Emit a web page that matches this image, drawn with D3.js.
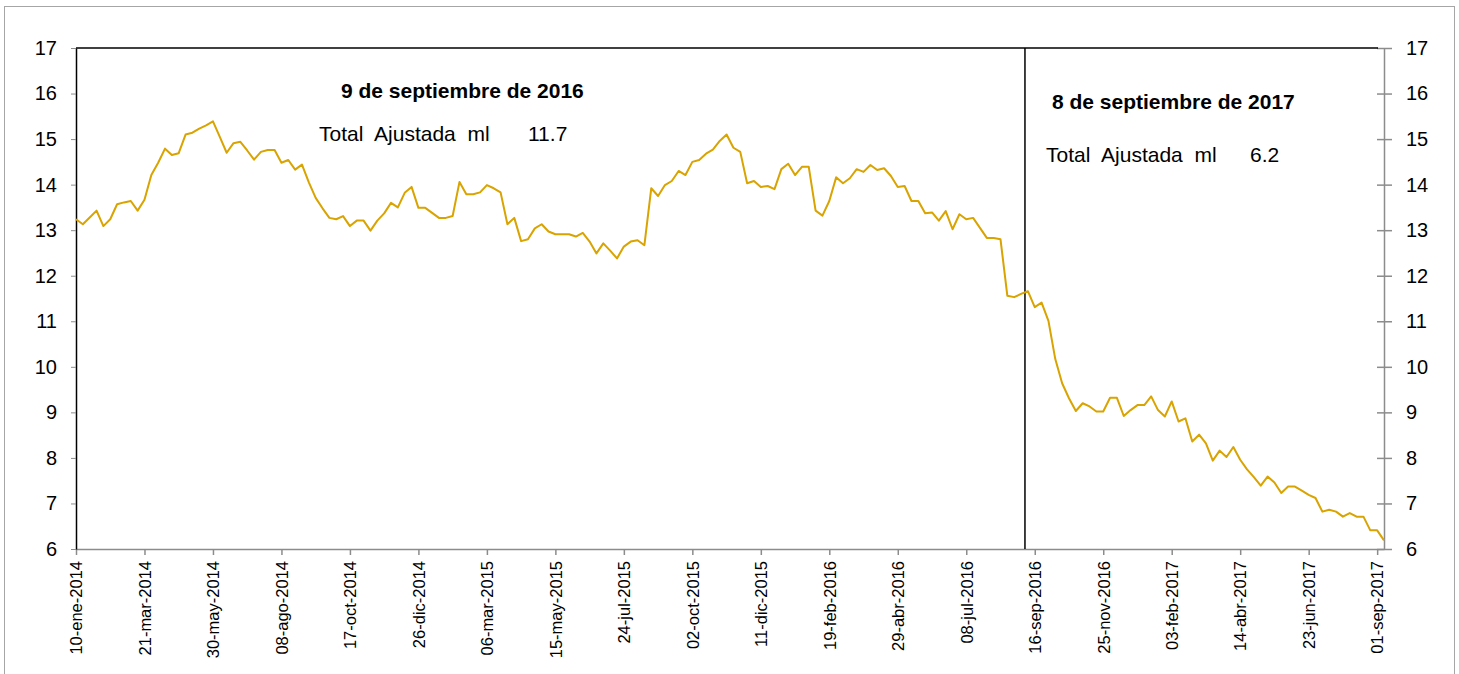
<!DOCTYPE html>
<html>
<head>
<meta charset="utf-8">
<script src="https://cdn.jsdelivr.net/npm/d3@7/dist/d3.min.js"></script>
<style>
  body { margin: 0; background: #fff; }
  text { font-family: "Liberation Sans", Arial, sans-serif; fill: #000; }
</style>
</head>
<body>
<div id="chart"></div>
<script>
// weekly series, first week and values (Total Ajustada ml)
const FIRST_WEEK = "2014-01-10";
const VALUES = [
  13.24, 13.13, 13.28, 13.43, 13.09, 13.24, 13.57, 13.61, 13.64, 13.43,
  13.67, 14.21, 14.48, 14.79, 14.65, 14.69, 15.10, 15.14, 15.23, 15.30,
  15.39, 15.05, 14.70, 14.91, 14.94, 14.75, 14.55, 14.72, 14.76, 14.76,
  14.48, 14.54, 14.33, 14.44, 14.05, 13.71, 13.48, 13.27, 13.24, 13.31,
  13.09, 13.21, 13.21, 12.99, 13.21, 13.37, 13.60, 13.50, 13.82, 13.95,
  13.49, 13.49, 13.38, 13.27, 13.27, 13.31, 14.06, 13.79, 13.79, 13.83,
  13.99, 13.92, 13.83, 13.13, 13.27, 12.76, 12.80, 13.04, 13.13, 12.97,
  12.91, 12.91, 12.91, 12.86, 12.94, 12.75, 12.49, 12.71, 12.55, 12.38,
  12.64, 12.75, 12.78, 12.67, 13.92, 13.75, 13.99, 14.08, 14.30, 14.21,
  14.50, 14.54, 14.68, 14.77, 14.96, 15.10, 14.81, 14.72, 14.03, 14.08,
  13.95, 13.97, 13.90, 14.34, 14.46, 14.21, 14.39, 14.39, 13.43, 13.32,
  13.64, 14.16, 14.03, 14.14, 14.34, 14.28, 14.43, 14.32, 14.36, 14.19,
  13.95, 13.97, 13.64, 13.64, 13.37, 13.39, 13.21, 13.42, 13.02, 13.35,
  13.24, 13.27, 13.05, 12.83, 12.83, 12.80, 11.56, 11.53, 11.60, 11.66,
  11.31, 11.41, 11.01, 10.17, 9.64, 9.31, 9.03, 9.20, 9.13, 9.02,
  9.02, 9.32, 9.32, 8.92, 9.05, 9.16, 9.16, 9.35, 9.05, 8.91,
  9.24, 8.80, 8.87, 8.36, 8.51, 8.32, 7.94, 8.16, 8.02, 8.24,
  7.96, 7.75, 7.58, 7.39, 7.59, 7.46, 7.23, 7.37, 7.37, 7.28,
  7.19, 7.12, 6.82, 6.86, 6.82, 6.71, 6.79, 6.71, 6.71, 6.41,
  6.41, 6.19
];
const Y_TICKS = [6, 7, 8, 9, 10, 11, 12, 13, 14, 15, 16, 17];
const X_TICK_EVERY = 10; // a label every 10 weeks
const MONTHS_ES = ["ene", "feb", "mar", "abr", "may", "jun", "jul", "ago", "sep", "oct", "nov", "dic"];
const MARKER_DATE = "2016-09-06";
const NOTE_LEFT = ["9 de septiembre de 2016", "Total Ajustada ml", "11.7"];
const NOTE_RIGHT = ["8 de septiembre de 2017", "Total Ajustada ml", "6.2"];

const W = 1459, H = 674;
const margin = {top: 48, right: 75, bottom: 125, left: 76};
const width = W - margin.left - margin.right;
const height = H - margin.top - margin.bottom;
const LINE_COLOR = "#d9a300";
const AXIS_GREY = "#8c8c8c";

const DAY = 24 * 3600 * 1000;
const t0 = Date.parse(FIRST_WEEK + "T00:00:00Z");
const data = VALUES.map((v, i) => ({date: new Date(t0 + i * 7 * DAY), value: v}));

const locale = d3.timeFormatLocale({
  dateTime: "%x, %X", date: "%d/%m/%Y", time: "%H:%M:%S", periods: ["AM", "PM"],
  days: ["domingo", "lunes", "martes", "miércoles", "jueves", "viernes", "sábado"],
  shortDays: ["dom", "lun", "mar", "mié", "jue", "vie", "sáb"],
  months: ["enero", "febrero", "marzo", "abril", "mayo", "junio", "julio", "agosto", "septiembre", "octubre", "noviembre", "diciembre"],
  shortMonths: MONTHS_ES
});
const fmt = locale.utcFormat("%d-%b-%Y");

const x = d3.scaleUtc().domain(d3.extent(data, d => d.date)).range([0, width]);
const y = d3.scaleLinear().domain([6, 17]).range([height, 0]);

const svg = d3.select("#chart").append("svg")
  .attr("width", W).attr("height", H);

// outer chart border
svg.append("rect")
  .attr("x", 4.5).attr("y", 6.5).attr("width", 1450).attr("height", 700)
  .attr("fill", "none").attr("stroke", "#a6a6a6").attr("stroke-width", 1);

const g = svg.append("g").attr("transform", "translate(" + margin.left + "," + margin.top + ")");

// bottom axis
const tickDates = data.filter((d, i) => i % X_TICK_EVERY === 0).map(d => d.date);
const xAxis = d3.axisBottom(x).tickValues(tickDates).tickFormat(fmt).tickSize(6).tickSizeOuter(0);
const gx = g.append("g").attr("transform", "translate(0," + height + ")").call(xAxis);
gx.select(".domain").attr("stroke", AXIS_GREY).attr("stroke-width", 1.5);
gx.selectAll(".tick line").attr("stroke", AXIS_GREY).attr("stroke-width", 1.5);
gx.selectAll(".tick text")
  .attr("transform", "rotate(-90)")
  .attr("text-anchor", "end")
  .attr("x", -12).attr("y", 0).attr("dy", "0.35em")
  .style("font-size", "16.5px");

// left axis
const yAxisL = d3.axisLeft(y).tickValues(Y_TICKS).tickSize(5).tickSizeOuter(0).tickPadding(14);
const gl = g.append("g").call(yAxisL);
gl.select(".domain").attr("stroke", "#000").attr("stroke-width", 1.5);
gl.selectAll(".tick line").attr("stroke", AXIS_GREY);
gl.selectAll(".tick text").style("font-size", "20px");

// right axis
const yAxisR = d3.axisRight(y).tickValues(Y_TICKS).tickSize(8).tickSizeOuter(0).tickPadding(14);
const gr = g.append("g").attr("transform", "translate(" + width + ",0)").call(yAxisR);
gr.select(".domain").attr("stroke", AXIS_GREY).attr("stroke-width", 1.5);
gr.selectAll(".tick line").attr("stroke", AXIS_GREY).attr("stroke-width", 1.5).attr("x1", -7);
gr.selectAll(".tick text").style("font-size", "20px");

// top frame line
g.append("line")
  .attr("x1", 0).attr("x2", width - 6).attr("y1", y(17)).attr("y2", y(17))
  .attr("stroke", "#000").attr("stroke-width", 1.5);

// marker line at september 2016
const mx = x(new Date(MARKER_DATE + "T00:00:00Z"));
g.append("line")
  .attr("x1", mx).attr("x2", mx).attr("y1", y(17)).attr("y2", y(6))
  .attr("stroke", "#000").attr("stroke-width", 1.5);

// the series
const line = d3.line().x(d => x(d.date)).y(d => y(d.value));
g.append("path").datum(data)
  .attr("d", line)
  .attr("fill", "none")
  .attr("stroke", LINE_COLOR)
  .attr("stroke-width", 2)
  .attr("stroke-linejoin", "round");

// annotations
function note(lines, x0, yTitle, xLabel, xValue, yLabel) {
  g.append("text").attr("x", x0).attr("y", yTitle)
    .style("font-size", "21px").style("font-weight", "bold").text(lines[0]);
  g.append("text").attr("x", xLabel).attr("y", yLabel)
    .style("font-size", "21px").style("word-spacing", "6px").text(lines[1]);
  g.append("text").attr("x", xValue).attr("y", yLabel)
    .style("font-size", "21px").text(lines[2]);
}
note(NOTE_LEFT, 265, 50, 243, 452, 93);
note(NOTE_RIGHT, 976, 61, 970, 1174, 114);
</script>
</body>
</html>
